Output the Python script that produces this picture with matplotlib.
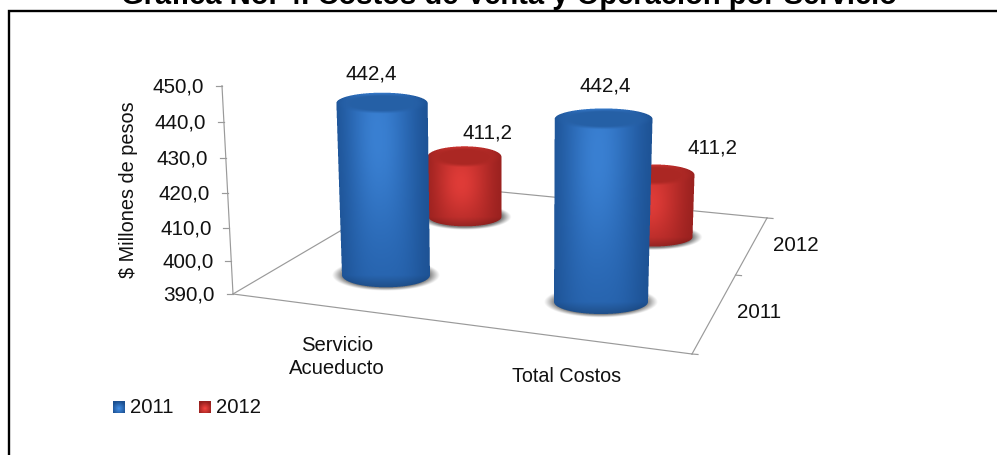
"""Costos de venta y operacion por servicio, drawn as a 3-D cylinder chart."""

from __future__ import annotations

import matplotlib

matplotlib.use("Agg")

import matplotlib.pyplot as plt
import numpy as np

CATEGORIES = ["Servicio\nAcueducto", "Total Costos"]
YEARS = ["2011", "2012"]
VALUES_2011 = [442.4, 442.4]
VALUES_2012 = [411.2, 411.2]
VALUE_TICKS = [390.0, 400.0, 410.0, 420.0, 430.0, 440.0, 450.0]

TITLE = "Gráfica No. 4. Costos de Venta y Operación por Servicio"
Y_LABEL = "$ Millones de pesos"

WIDTH, HEIGHT = 997, 455
AXIS_MIN = VALUE_TICKS[0]

# floor corners of the 3-D box in figure pixels
FLOOR_A = np.array([233.0, 294.0])
FLOOR_B = np.array([692.0, 354.0])
FLOOR_C = np.array([767.0, 218.0])
FLOOR_D = np.array([420.0, 184.0])

LINE_GREY = "#9a9a9a"
FONT = "Liberation Sans"

BLUE = {"dark": (28, 80, 145), "mid": (42, 105, 182), "bright": (58, 128, 210), "cap": (38, 96, 166)}
RED = {"dark": (150, 32, 30), "mid": (190, 46, 43), "bright": (224, 60, 56), "cap": (172, 40, 36)}


def fmt(value: float) -> str:
    """Format a number with a decimal comma."""
    return f"{value:.1f}".replace(".", ",")


def floor_point(cat: float, depth: float) -> np.ndarray:
    """Project floor coordinates (0..2 each way) to pixels."""
    u, v = cat / 2.0, depth / 2.0
    return (
        (1 - u) * (1 - v) * FLOOR_A
        + u * (1 - v) * FLOOR_B
        + u * v * FLOOR_C
        + (1 - u) * v * FLOOR_D
    )


def axis_point(value: float) -> np.ndarray:
    """Project a value on the vertical axis to pixels."""
    t = (value - AXIS_MIN) / 10.0
    rise = 32.5 * t + 0.37 * t**2
    return np.array([FLOOR_A[0] - 11.0 * rise / 208.0, FLOOR_A[1] - rise])


def bar_geometry(cat: int, depth: int, value: float) -> dict[str, float]:
    """Return base and top ellipses of the cylinder for one value."""
    xb, yb = floor_point(cat + 0.5, depth + 0.5)
    xb -= 2.0
    yb -= 4.8
    scale = 3.28 + 0.21 * cat - 0.45 * depth - 0.11 * cat * depth
    rise = scale * (value - AXIS_MIN)
    a_base = 43.5 + 3.5 * cat - 7.0 * depth
    return {
        "xb": xb,
        "yb": yb,
        "ab": a_base,
        "bb": 12.2 - 2.7 * depth,
        "xt": xb + (xb - 519.0) * 0.000173 * rise,
        "yt": yb - rise,
        "at": a_base * (1 + 0.00022 * rise),
        "bt": 10.5,
    }


def pixel_grid(x0: int, x1: int, y0: int, y1: int, ss: int = 4):
    """Return supersampled pixel coordinates for a box."""
    xs = x0 + (np.arange((x1 - x0) * ss) + 0.5) / ss
    ys = y0 + (np.arange((y1 - y0) * ss) + 0.5) / ss
    return np.meshgrid(xs, ys)


def downsample(rgba: np.ndarray, ss: int = 4) -> np.ndarray:
    """Average a supersampled image back to whole pixels."""
    h, w = rgba.shape[0] // ss, rgba.shape[1] // ss
    return rgba.reshape(h, ss, w, ss, 4).mean(axis=(1, 3))


def draw_shadow(ax, g: dict[str, float]) -> None:
    """Draw the soft grey shadow under a cylinder."""
    a, b = g["ab"] + 10.0, g["bb"] + 3.5
    x0, x1 = int(g["xb"] - a - 2), int(g["xb"] + a + 2)
    y0, y1 = int(g["yb"] - b - 2), int(g["yb"] + b + 2)
    xx, yy = pixel_grid(x0, x1, y0, y1)
    r = np.hypot((xx - g["xb"]) / a, (yy - g["yb"]) / b)
    alpha = 0.85 * np.clip((1 - r) / 0.2, 0, 1) ** 1.1
    rgba = np.dstack([np.full_like(xx, 0.40)] * 3 + [alpha])
    ax.imshow(downsample(rgba), extent=(x0, x1, y1, y0), aspect="auto", interpolation="nearest", zorder=2)


def draw_cylinder(ax, g: dict[str, float], colors: dict[str, tuple], spot_t: float) -> None:
    """Draw a shaded cylinder body and its top cap."""
    x0 = int(min(g["xb"] - g["ab"], g["xt"] - g["at"]) - 2)
    x1 = int(max(g["xb"] + g["ab"], g["xt"] + g["at"]) + 3)
    y0 = int(g["yt"] - g["bt"] - 2)
    y1 = int(g["yb"] + g["bb"] + 3)
    xx, yy = pixel_grid(x0, x1, y0, y1)

    t = (yy - g["yt"]) / (g["yb"] - g["yt"])
    tc = np.clip(t, 0, 1)
    cx = g["xt"] + (g["xb"] - g["xt"]) * tc
    half = g["at"] + (g["ab"] - g["at"]) * tc
    s = np.clip((xx - cx) / half, -1, 1)

    in_side = (np.abs(xx - cx) <= half) & (t >= 0) & (t <= 1)
    r_top = np.hypot((xx - g["xt"]) / g["at"], (yy - g["yt"]) / g["bt"])
    r_base = np.hypot((xx - g["xb"]) / g["ab"], (yy - g["yb"]) / g["bb"])
    mask = in_side | (r_top <= 1) | (r_base <= 1)

    dark = np.array(colors["dark"]) / 255.0
    mid = np.array(colors["mid"]) / 255.0
    bright = np.array(colors["bright"]) / 255.0
    cap = np.array(colors["cap"]) / 255.0

    # flat body colour with dark sides, plus a soft highlight left of centre
    plateau = np.exp(-((np.abs(s + 0.05) / 0.85) ** 3.5))
    fade = 1.0 - 0.22 * tc**3
    spot = np.exp(-(((s + 0.1) / 0.5) ** 2) - ((tc - spot_t) / 0.5) ** 2)
    rgb = dark + (mid - dark) * (plateau * fade)[..., None] + (bright - mid) * spot[..., None]

    below = np.clip((yy - g["yb"]) / g["bb"], 0, 1)[..., None]
    rgb = rgb * (1 - 0.22 * below)

    cap_mix = (np.clip((1 - r_top) / 0.3, 0, 1) * (r_top <= 1))[..., None]
    rgb = rgb + (cap - rgb) * cap_mix

    rgba = np.dstack([np.clip(rgb, 0, 1), mask.astype(float)])
    ax.imshow(downsample(rgba), extent=(x0, x1, y1, y0), aspect="auto", interpolation="nearest", zorder=3)


def draw_box(ax) -> None:
    """Draw the floor outline, the value axis and their ticks."""
    line = {"color": LINE_GREY, "linewidth": 0.85, "zorder": 1}
    for p, q in ((FLOOR_A, FLOOR_B), (FLOOR_B, FLOOR_C), (FLOOR_C, FLOOR_D), (FLOOR_D, FLOOR_A)):
        ax.plot([p[0], q[0]], [p[1], q[1]], **line)

    top = axis_point(VALUE_TICKS[-1])
    bottom = axis_point(VALUE_TICKS[0])
    ax.plot([bottom[0], top[0]], [bottom[1], top[1]], **line)
    for tick in VALUE_TICKS:
        x, y = axis_point(tick)
        ax.plot([x - 6, x], [y, y], **line)
        ax.text(x - 18, y + 1, fmt(tick), ha="right", va="center", fontsize=14.9, family=FONT, color="#111111")

    # depth ticks on the right edge of the floor
    for depth in (0.0, 1.16, 2.0):
        x, y = floor_point(2.0, depth)
        ax.plot([x, x + 6], [y, y + 0.5], **line)


def draw_legend(ax) -> None:
    """Draw the year legend with small shaded squares."""
    for year, colors, left in zip(YEARS, (BLUE, RED), (113, 199)):
        yy, xx = np.mgrid[0:12, 0:12]
        r = np.hypot((xx - 5.5) / 7.0, (yy - 7.0) / 7.0)
        dark = np.array(colors["dark"]) / 255.0
        bright = np.array(colors["bright"]) / 255.0
        rgb = dark + (bright - dark) * np.clip(1 - r, 0, 1)[..., None] * 1.3
        ax.imshow(np.clip(rgb, 0, 1), extent=(left, left + 12, 413, 401), aspect="auto", interpolation="bilinear", zorder=3)
        ax.text(left + 17, 407.5, year, ha="left", va="center", fontsize=14.6, family=FONT, color="#111111")


def main() -> None:
    fig = plt.figure(figsize=(WIDTH / 100, HEIGHT / 100), dpi=100)
    ax = fig.add_axes([0, 0, 1, 1])
    ax.set_autoscale_on(False)
    ax.set_xlim(0, WIDTH)
    ax.set_ylim(HEIGHT, 0)
    ax.axis("off")

    # outer frame only closes on the top and left sides
    ax.plot([9, 9, WIDTH], [HEIGHT, 11, 11], color="black", linewidth=1.7, zorder=1, solid_joinstyle="miter")
    ax.text(509, 4, TITLE, ha="center", va="baseline", fontsize=21.0, fontweight="bold", family=FONT, color="black")

    draw_box(ax)

    series = ((VALUES_2012, RED, 1, 0.45), (VALUES_2011, BLUE, 0, 0.2))
    for values, colors, depth, spot_t in series:
        for cat, value in enumerate(values):
            g = bar_geometry(cat, depth, value)
            draw_shadow(ax, g)
            draw_cylinder(ax, g, colors, spot_t)

    # value labels sit a little off each cylinder top
    offsets = {(0, 0): (-10, -29), (1, 0): (2, -33), (0, 1): (22.6, -24), (1, 1): (58.5, -27)}
    for values, depth in ((VALUES_2011, 0), (VALUES_2012, 1)):
        for cat, value in enumerate(values):
            g = bar_geometry(cat, depth, value)
            dx, dy = offsets[(cat, depth)]
            ax.text(g["xt"] + dx, g["yt"] + dy, fmt(value), ha="center", va="center", fontsize=14.9, family=FONT, color="#111111", zorder=5)

    ax.text(128, 190, Y_LABEL, rotation=90, ha="center", va="center", fontsize=14.3, family=FONT, color="#111111")
    ax.text(337, 357, CATEGORIES[0], ha="center", va="center", fontsize=14.6, family=FONT, color="#111111", linespacing=1.22)
    ax.text(566.5, 377, CATEGORIES[1], ha="center", va="center", fontsize=14.2, family=FONT, color="#111111")
    ax.text(796, 245.5, YEARS[1], ha="center", va="center", fontsize=14.8, family=FONT, color="#111111")
    ax.text(759, 312, YEARS[0], ha="center", va="center", fontsize=14.8, family=FONT, color="#111111")

    draw_legend(ax)
    fig.savefig("out.png", dpi=100, facecolor="white")
    plt.close(fig)


if __name__ == "__main__":
    main()
